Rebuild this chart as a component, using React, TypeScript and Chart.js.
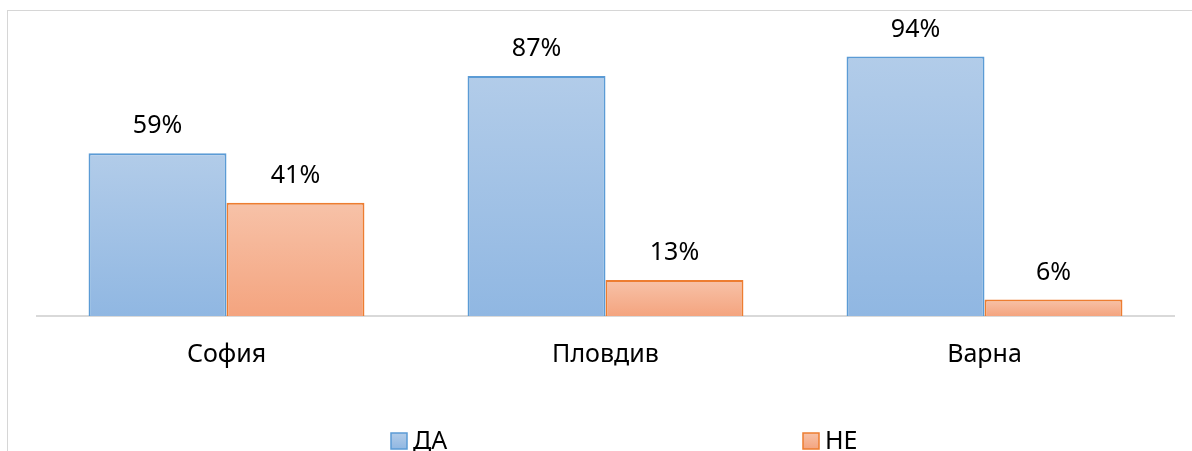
import React, { useEffect, useRef } from "react";
import { Chart, registerables } from "chart.js";

Chart.register(...registerables);

const categories = ["София", "Пловдив", "Варна"];
const seriesNames = ["ДА", "НЕ"];
const daValues = [0.59, 0.87, 0.94];
const neValues = [0.41, 0.13, 0.06];

const FONT = "'Noto Sans', 'Open Sans', sans-serif";
const FONT_SIZE = 25;

const daStyle = { top: "#b2cce9", bottom: "#90b7e2", border: "#5b9bd5" };
const neStyle = { top: "#f7c2a8", bottom: "#f4a47f", border: "#ed7d31" };

function makeGradientFill(style: { top: string; bottom: string }) {
  return (ctx: any) => {
    const chart = ctx.chart;
    const { chartArea, scales } = chart;
    if (!chartArea || ctx.type !== "data" || !scales.y) return style.bottom;
    const y0 = scales.y.getPixelForValue(0);
    const y1 = scales.y.getPixelForValue(ctx.raw);
    if (!isFinite(y0) || !isFinite(y1) || y0 === y1) return style.bottom;
    const g = chart.ctx.createLinearGradient(0, y1, 0, y0);
    g.addColorStop(0, style.top);
    g.addColorStop(1, style.bottom);
    return g;
  };
}

const dataLabelPlugin = {
  id: "dataLabels",
  afterDatasetsDraw(chart: any) {
    const ctx = chart.ctx;
    ctx.save();
    ctx.font = `${FONT_SIZE}px ${FONT}`;
    ctx.fillStyle = "#000";
    ctx.textAlign = "center";
    ctx.textBaseline = "middle";
    chart.data.datasets.forEach((ds: any, di: number) => {
      const meta = chart.getDatasetMeta(di);
      meta.data.forEach((bar: any, i: number) => {
        const v = ds.data[i];
        ctx.fillText(Math.round(v * 100) + "%", bar.x, bar.y - 27);
      });
    });
    ctx.restore();
  },
};

const customLegendPlugin = {
  id: "customLegend",
  afterDraw(chart: any) {
    const ctx = chart.ctx;
    const styles = [daStyle, neStyle];
    const starts = [391, 803];
    const cy = 441;
    const box = 16;
    ctx.save();
    ctx.font = `${FONT_SIZE}px ${FONT}`;
    ctx.textBaseline = "middle";
    ctx.textAlign = "left";
    seriesNames.forEach((name, i) => {
      const st = styles[i];
      const x = starts[i];
      const y = cy - box / 2;
      const g = ctx.createLinearGradient(0, y, 0, y + box);
      g.addColorStop(0, st.top);
      g.addColorStop(1, st.bottom);
      ctx.fillStyle = g;
      ctx.fillRect(x, y, box, box);
      ctx.strokeStyle = st.border;
      ctx.lineWidth = 1.5;
      ctx.strokeRect(x, y, box, box);
      ctx.fillStyle = "#000";
      ctx.fillText(name, x + box + 6, cy + 1);
    });
    ctx.restore();
  },
};

export default function App() {
  const canvasRef = useRef<HTMLCanvasElement | null>(null);

  useEffect(() => {
    if (!canvasRef.current) return;
    const chart = new Chart(canvasRef.current, {
      type: "bar",
      data: {
        labels: categories,
        datasets: [
          {
            label: seriesNames[0],
            data: daValues,
            backgroundColor: makeGradientFill(daStyle),
            borderColor: daStyle.border,
            borderWidth: 2,
            categoryPercentage: 0.728,
            barPercentage: 1.0,
          },
          {
            label: seriesNames[1],
            data: neValues,
            backgroundColor: makeGradientFill(neStyle),
            borderColor: neStyle.border,
            borderWidth: 2,
            categoryPercentage: 0.728,
            barPercentage: 1.0,
          },
        ],
      },
      options: {
        animation: false,
        responsive: false,
        maintainAspectRatio: false,
        layout: { padding: { left: 37, right: 18, top: 40, bottom: 40 } },
        plugins: {
          legend: { display: false },
          tooltip: { enabled: false },
        },
        scales: {
          y: { display: false, min: 0, max: 1 },
          x: {
            grid: { display: false, drawTicks: false },
            border: { display: true, color: "#d9d9d9", width: 2 },
            ticks: {
              font: { family: FONT, size: FONT_SIZE },
              color: "#000",
              padding: 24,
            },
            afterFit: (scale: any) => {
              scale.height = 95;
            },
          },
        },
      },
      plugins: [dataLabelPlugin, customLegendPlugin],
    });
    return () => chart.destroy();
  }, []);

  return (
    <div
      style={{
        position: "fixed",
        left: 0,
        top: 0,
        width: 1192,
        height: 451,
        background: "#fff",
        overflow: "hidden",
      }}
    >
      <div
        style={{
          position: "absolute",
          left: 7,
          top: 10,
          width: 1300,
          height: 600,
          borderTop: "1px solid #d6d6d6",
          borderLeft: "1px solid #d6d6d6",
        }}
      />
      <canvas
        ref={canvasRef}
        width={1192}
        height={451}
        style={{ position: "absolute", left: 0, top: 0, width: 1192, height: 451 }}
      />
    </div>
  );
}
